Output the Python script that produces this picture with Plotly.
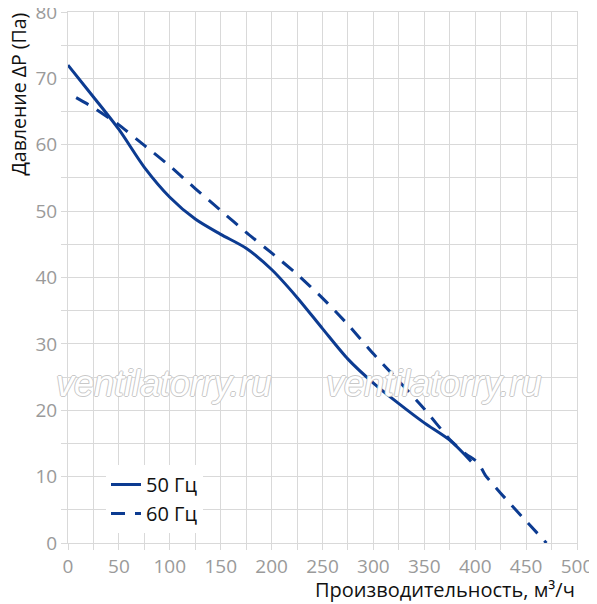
import plotly.graph_objects as go

# кривые вентилятора
x_50 = [0, 25, 50, 75, 100, 125, 150, 175, 200, 225, 250, 275, 300, 325, 350, 375, 396]
y_50 = [72.0, 67.2, 62.3, 56.6, 52.1, 48.8, 46.5, 44.4, 41.2, 37.0, 32.3, 27.7, 24.1, 21.0, 18.1, 15.5, 12.3]

x_60 = [8, 25, 50, 75, 100, 125, 150, 175, 200, 225, 250, 275, 300, 325, 350, 375, 390, 403, 410, 425, 450, 470]
y_60 = [67.1, 65.6, 63.0, 59.9, 56.8, 53.4, 50.1, 46.8, 43.7, 40.5, 36.9, 32.9, 28.5, 24.4, 20.2, 15.6, 13.5, 12.1, 10.2, 7.5, 3.3, 0]

C_LINE = "#0c3b91"
C_GRID = "#d9d9d9"
C_TICK = "#9a9a9a"
FONT = "Open Sans, Noto Sans, sans-serif"

# область построения в пикселях окна: x 68..577, y 12..543 (страница сдвинута на 8px)
def px_x(p):
    return (p - 68) / 509

def px_y(p):
    return (543 - p) / 531

fig = go.Figure()
fig.add_trace(go.Scatter(x=x_50, y=y_50, mode="lines", name="50 Гц",
                         line=dict(color=C_LINE, width=3, shape="spline", smoothing=0.8)))
fig.add_trace(go.Scatter(x=x_60, y=y_60, mode="lines", name="60 Гц",
                         line=dict(color=C_LINE, width=3, dash="14px,10px", shape="spline", smoothing=0.5)))

# водяные знаки
for xp in [163, 433]:
    fig.add_annotation(
        x=px_x(xp), y=px_y(383), xref="paper", yref="paper", text="ventilatorry.ru",
        showarrow=False, xanchor="center", yanchor="middle",
        font=dict(family="Liberation Sans, Arial", size=36, style="italic", color="white",
                  shadow="1px 0 0 #c8c8c8, -1px 0 0 #c8c8c8, 0 1px 0 #c8c8c8, 0 -1px 0 #c8c8c8"),
    )

fig.add_annotation(
    text="Давление ΔР (Па)", xref="paper", yref="paper", x=px_x(18.5), y=px_y(94),
    textangle=-90, showarrow=False, xanchor="center", yanchor="middle",
    font=dict(family=FONT, size=19.5, color="#111111"),
)
fig.add_annotation(
    text="Производительность, м³/ч", xref="paper", yref="paper", x=1.0, y=px_y(589),
    showarrow=False, xanchor="right", yanchor="middle",
    font=dict(family=FONT, size=20, color="#111111"),
)

fig.update_layout(
    width=597, height=604,
    margin=dict(l=60, r=28, t=4, b=69, autoexpand=False),
    paper_bgcolor="white", plot_bgcolor="white",
    font=dict(family=FONT, size=19, color=C_TICK),
    showlegend=True,
    legend=dict(x=px_x(106), y=px_y(465), xanchor="left", yanchor="top", bgcolor="white",
                font=dict(family=FONT, size=20, color="#111111"), tracegroupgap=0),
)
fig.update_xaxes(
    range=[0, 500], dtick=50, showgrid=True, gridcolor=C_GRID, gridwidth=1, automargin=False,
    zeroline=False, showline=True, linecolor=C_GRID, mirror=True, ticklabeloverflow="allow",
    ticks="outside", ticklen=6, tickcolor=C_GRID, tickfont=dict(color=C_TICK, size=19),
    minor=dict(dtick=25, showgrid=True, gridcolor=C_GRID, ticks="outside", ticklen=6, tickcolor=C_GRID),
)
fig.update_yaxes(
    range=[0, 80], dtick=10, showgrid=True, gridcolor=C_GRID, gridwidth=1, automargin=False,
    zeroline=False, showline=True, linecolor=C_GRID, mirror=True, ticklabeloverflow="allow",
    ticks="outside", ticklen=6, tickcolor=C_GRID, tickfont=dict(color=C_TICK, size=19),
    minor=dict(dtick=5, showgrid=True, gridcolor=C_GRID, ticks="outside", ticklen=6, tickcolor=C_GRID),
)

fig.write_html("out.html")
